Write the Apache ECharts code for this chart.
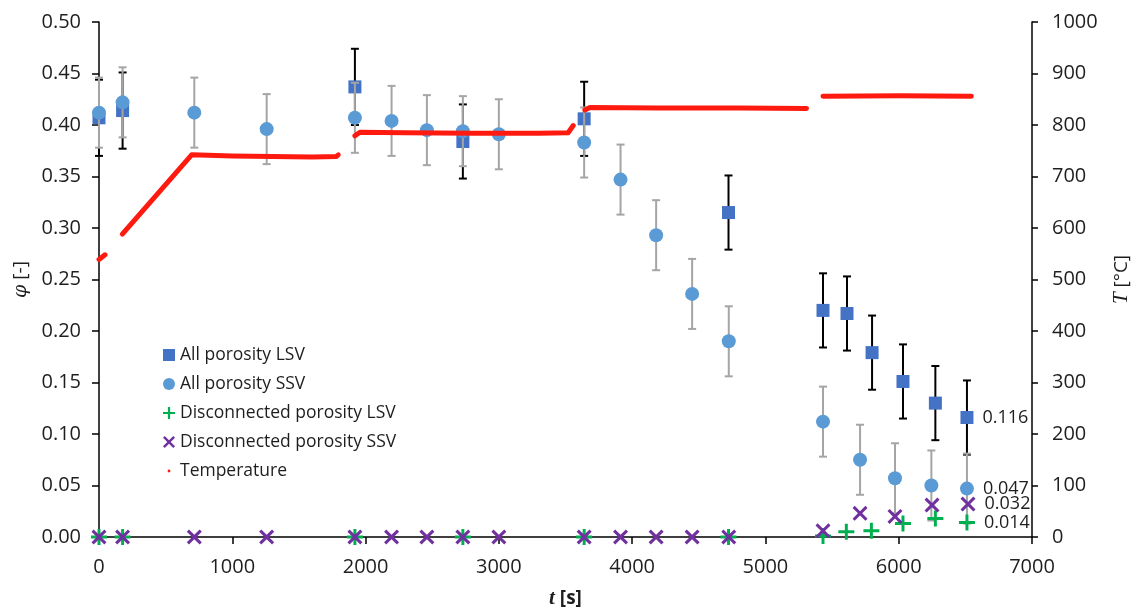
<!DOCTYPE html>
<html><head><meta charset="utf-8">
<script src="https://cdn.jsdelivr.net/npm/echarts@6/dist/echarts.min.js"></script>
<style>html,body{margin:0;padding:0;background:#fff}#c{width:1131px;height:612px}</style>
</head><body><div id="c"></div>
<script>
// ---- data ----
const lsvT   = [0, 177, 1920, 2730, 3640, 4723, 5432, 5612, 5800, 6032, 6275, 6512];
const lsvPhi = [0.407, 0.414, 0.437, 0.384, 0.406, 0.315, 0.220, 0.217, 0.179, 0.151, 0.130, 0.116];
const lsvErr = [0.037, 0.037, 0.037, 0.036, 0.036, 0.036, 0.036, 0.036, 0.036, 0.036, 0.036, 0.036];

const ssvT   = [0, 177, 715, 1258, 1920, 2195, 2460, 2730, 3000, 3640, 3913, 4180, 4450, 4725, 5432, 5710, 5972, 6245, 6512];
const ssvPhi = [0.412, 0.422, 0.412, 0.396, 0.407, 0.404, 0.395, 0.394, 0.391, 0.383, 0.347, 0.293, 0.236, 0.190, 0.112, 0.075, 0.057, 0.050, 0.047];
const ssvErr = [0.034, 0.034, 0.034, 0.034, 0.034, 0.034, 0.034, 0.034, 0.034, 0.034, 0.034, 0.034, 0.034, 0.034, 0.034, 0.034, 0.034, 0.034, 0.034];

const discLsvT   = [0, 177, 1920, 2730, 3640, 4723, 5432, 5607, 5795, 6032, 6275, 6512];
const discLsvPhi = [0, 0, 0, 0, 0, 0, 0.001, 0.005, 0.006, 0.013, 0.018, 0.014];

const discSsvT   = [0, 177, 715, 1258, 1920, 2195, 2460, 2730, 3000, 3640, 3913, 4180, 4450, 4725, 5432, 5710, 5972, 6250, 6520];
const discSsvPhi = [0, 0, 0, 0, 0, 0, 0, 0, 0, 0, 0, 0, 0, 0, 0.006, 0.023, 0.020, 0.031, 0.032];

// temperature record, [t, T] breakpoints of each continuous stretch
const tempSeg1 = [[0, 539], [45, 548]];
const tempSeg2 = [[175, 588], [695, 742], [1000, 740], [1300, 739], [1600, 738], [1780, 739], [1795, 742]];
const tempSeg3 = [[1920, 779], [1958, 786], [2300, 785], [2800, 784], [3300, 784], [3520, 785], [3558, 799]];
const tempSeg4 = [[3645, 829], [3683, 834], [4200, 833], [4800, 833], [5308, 832]];
const tempSeg5 = [[5432, 856], [6000, 857], [6545, 856]];

const phiTicks = [0, 0.5, 0.05];
const tempTicks = [0, 1000, 100];
const timeTicks = [0, 7000, 1000];

// ---- chart ----
const FONT = 'Open Sans';
const TXT = '#1e1e1e';
const plusPath = 'path://M5.7,0h2.6v14h-2.6z M0,5.7h14v2.6h-14z';
const xPath = 'path://M0,2L2,0L7,5L12,0L14,2L9,7L14,12L12,14L7,9L2,14L0,12L5,7z';
const dotPath = 'path://M0,0M12,12M4.6,6a1.4,1.4 0 1,0 2.8,0a1.4,1.4 0 1,0 -2.8,0';

function pts(xs, ys) {
  const last = xs.length - 1;
  return xs.map((x, i) => i === last
    ? { value: [x, ys[i]], label: { show: true } }
    : [x, ys[i]]);
}
function errBars(xs, ys, es, color, z) {
  return {
    type: 'custom', silent: true, z: z,
    data: xs.map((x, i) => [x, ys[i], es[i]]),
    encode: { x: 0, y: 1 },
    renderItem: function (params, api) {
      const x = api.value(0), y = api.value(1), e = api.value(2);
      const hi = api.coord([x, y + e]), lo = api.coord([x, y - e]);
      const w = 4;
      const st = { stroke: color, lineWidth: 2 };
      return { type: 'group', children: [
        { type: 'line', shape: { x1: hi[0], y1: hi[1], x2: lo[0], y2: lo[1] }, style: st },
        { type: 'line', shape: { x1: hi[0] - w, y1: hi[1], x2: hi[0] + w, y2: hi[1] }, style: st },
        { type: 'line', shape: { x1: lo[0] - w, y1: lo[1], x2: lo[0] + w, y2: lo[1] }, style: st }
      ]};
    }
  };
}
const lbl = {
  show: false, position: 'right', distance: 9, fontFamily: FONT, fontSize: 18, color: TXT,
  formatter: p => p.value[1].toFixed(3)
};
function tempSeries(seg) {
  return {
    type: 'line', name: 'Temperature', yAxisIndex: 1, data: seg, showSymbol: false, symbol: 'none',
    lineStyle: { color: '#ff1a10', width: 5, cap: 'round', join: 'round' },
    itemStyle: { color: '#ff1a10' }, z: 10, silent: true, animation: false
  };
}

const chart = echarts.init(document.getElementById('c'));
chart.setOption({
  animation: false,
  backgroundColor: '#fff',
  grid: { left: 99, right: 99, top: 22, bottom: 75, containLabel: false, outerBoundsMode: 'none' },
  legend: {
    orient: 'vertical', left: 158, top: 340, itemWidth: 12, itemHeight: 12, itemGap: 9,
    textStyle: { fontFamily: FONT, fontSize: 17.5, color: TXT, lineHeight: 20 },
    data: [
      { name: 'All porosity LSV', icon: 'rect' },
      { name: 'All porosity SSV', icon: 'circle' },
      { name: 'Disconnected porosity LSV', icon: plusPath },
      { name: 'Disconnected porosity SSV', icon: xPath },
      { name: 'Temperature', icon: dotPath }
    ]
  },
  xAxis: {
    type: 'value', min: timeTicks[0], max: timeTicks[1], interval: timeTicks[2],
    name: '{i|t} [s]', nameLocation: 'middle', nameGap: 51,
    nameTextStyle: { fontFamily: FONT, fontSize: 19, fontWeight: 'bold', color: TXT,
      rich: { i: { fontFamily: 'Liberation Serif', fontStyle: 'italic', fontWeight: 'bold', fontSize: 21, color: TXT } } },
    axisLine: { lineStyle: { color: '#000', width: 1.5 } },
    axisTick: { inside: false, length: 7, lineStyle: { color: '#000', width: 1.5 } },
    axisLabel: { fontFamily: FONT, fontSize: 20, color: TXT, margin: 20, formatter: v => String(v) },
    splitLine: { show: false }
  },
  yAxis: [{
    type: 'value', min: phiTicks[0], max: phiTicks[1], interval: phiTicks[2], position: 'left',
    name: '{i|φ} [-]', nameLocation: 'middle', nameGap: 57, nameRotate: 90,
    nameTextStyle: { fontFamily: FONT, fontSize: 19, color: TXT,
      rich: { i: { fontFamily: 'DejaVu Serif', fontStyle: 'italic', fontSize: 19, color: TXT } } },
    axisLine: { show: true, lineStyle: { color: '#000', width: 1.5 } },
    axisTick: { show: true, length: 7, lineStyle: { color: '#000', width: 1.5 } },
    axisLabel: { fontFamily: FONT, fontSize: 20, color: TXT, margin: 18, formatter: v => v.toFixed(2) },
    splitLine: { show: false }
  }, {
    type: 'value', min: tempTicks[0], max: tempTicks[1], interval: tempTicks[2], position: 'right',
    name: '{i|T} [°C]', nameLocation: 'middle', nameGap: 79, nameRotate: 90,
    nameTextStyle: { fontFamily: FONT, fontSize: 19, color: TXT,
      rich: { i: { fontFamily: 'Liberation Serif', fontStyle: 'italic', fontSize: 21, color: TXT } } },
    axisLine: { show: true, lineStyle: { color: '#000', width: 1.5 } },
    axisTick: { show: true, length: 6, lineStyle: { color: '#000', width: 1.5 } },
    axisLabel: { fontFamily: FONT, fontSize: 20, color: TXT, margin: 20, formatter: v => String(v) },
    splitLine: { show: false }
  }],
  series: [
    errBars(lsvT, lsvPhi, lsvErr, '#000000', 2),
    { type: 'scatter', name: 'All porosity LSV', data: pts(lsvT, lsvPhi), symbol: 'rect', symbolSize: 13,
      itemStyle: { color: '#4472C4', opacity: 1 }, label: lbl, z: 3 },
    errBars(ssvT, ssvPhi, ssvErr, '#A5A5A5', 4),
    { type: 'scatter', name: 'All porosity SSV', data: pts(ssvT, ssvPhi), symbol: 'circle', symbolSize: 14,
      itemStyle: { color: '#5B9BD5', opacity: 1 }, label: lbl, z: 5 },
    { type: 'scatter', name: 'Disconnected porosity LSV', data: pts(discLsvT, discLsvPhi), symbol: plusPath, symbolSize: 16,
      itemStyle: { color: '#00B050', opacity: 1 }, label: lbl, z: 6 },
    { type: 'scatter', name: 'Disconnected porosity SSV', data: pts(discSsvT, discSsvPhi), symbol: xPath, symbolSize: 15,
      itemStyle: { color: '#7030A0', opacity: 1 }, label: lbl, z: 7 },
    tempSeries(tempSeg1), tempSeries(tempSeg2), tempSeries(tempSeg3), tempSeries(tempSeg4), tempSeries(tempSeg5)
  ]
});
</script>
</body></html>
